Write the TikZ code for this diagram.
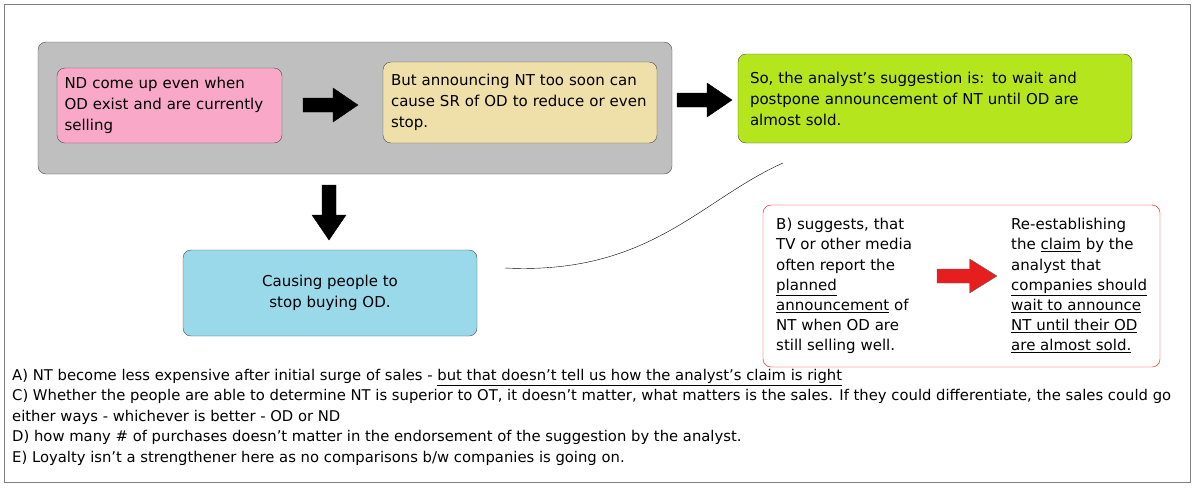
\documentclass[tikz,border=0pt]{standalone}
\usepackage{fontspec}
\setmainfont{DejaVu Sans}
\begin{document}
\begin{tikzpicture}[x=1pt,y=-1pt,font=\fontsize{15}{21}\selectfont,
 box/.style={draw=black!70,rounded corners=8pt,align=left,inner sep=0pt},
 pics/barrow/.style={code={\path[pic actions] (0,-7) -- (30,-7) -- (30,-17) -- (55,0) -- (30,17) -- (30,7) -- (0,7) -- cycle;}}]
\useasboundingbox (0,0) rectangle (1196,488);
\draw[black!50] (4,4) rectangle (1190,482);
\node[box,fill=black!25,minimum width=634pt,minimum height=132pt] (grp) at (355,108) {};
\node[box,fill={rgb,255:red,249;green,168;blue,200},minimum width=225pt,minimum height=75pt,text width=210pt] (nd) at (169.5,105.5) {ND come up even when\\OD exist and are currently\\selling};
\node[box,fill={rgb,255:red,239;green,224;blue,170},minimum width=274pt,minimum height=81pt,text width=258pt] (nt) at (520,102.5) {But announcing NT too soon can\\cause SR of OD to reduce or even\\stop.};
\node[box,fill={rgb,255:red,181;green,230;blue,29},minimum width=394pt,minimum height=89pt,text width=370pt] (sug) at (935,98.5) {So, the analyst’s suggestion is: to wait and\\postpone announcement of NT until OD are\\almost sold.};
\node[box,fill={rgb,255:red,153;green,217;blue,234},minimum width=294pt,minimum height=86pt,align=center] (cause) at (330,293) {Causing people to\\stop buying OD.};
\node[box,draw=red,fill=white,minimum width=397pt,minimum height=162pt] (rb) at (961.5,286) {};
\node[align=left,anchor=north west,inner sep=0pt,font=\fontsize{15}{20.2}\selectfont] (b) at (776,218) {B) suggests, that\\TV or other media\\often report the\\\underline{planned}\\\underline{announcement} of\\NT when OD are\\still selling well.};
\node[align=left,anchor=north west,inner sep=0pt,font=\fontsize{15}{20.2}\selectfont] (re) at (1011,218) {Re-establishing\\the \underline{claim} by the\\analyst that\\\underline{companies should}\\\underline{wait to announce}\\\underline{NT until their OD}\\\underline{are almost sold.}};
\pic[fill=black,draw=black] (a1) at (303,105) {barrow};
\pic[fill=black,draw=black] (a2) at (677,100) {barrow};
\pic[fill=black,draw=black,rotate=-90] (a3) at (329,185) {barrow};
\pic[fill={rgb,255:red,230;green,30;blue,30},draw=black!60,xscale=1.09] (a4) at (937,276) {barrow};
\coordinate (cs) at (505,268);
\coordinate (ce) at (783,163);
\draw (cs) .. controls (650,275) and (700,200) .. (ce);
\node[anchor=north west,align=left,inner sep=0pt,font=\fontsize{14.8}{20.5}\selectfont] (txt) at (12,369) {A) NT become less expensive after initial surge of sales - \underline{but that doesn’t tell us how the analyst’s claim is right}\\C) Whether the people are able to determine NT is superior to OT, it doesn’t matter, what matters is the sales. If they could differentiate, the sales could go\\either ways - whichever is better - OD or ND\\D) how many \# of purchases doesn’t matter in the endorsement of the suggestion by the analyst.\\E) Loyalty isn’t a strengthener here as no comparisons b/w companies is going on.};
\end{tikzpicture}
\end{document}
